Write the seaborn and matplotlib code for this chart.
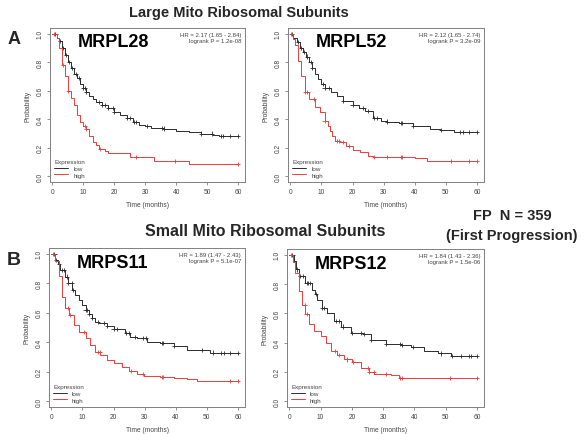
import numpy as np
import pandas as pd
import matplotlib
matplotlib.use("Agg")
import matplotlib.pyplot as plt
import seaborn as sns

sns.set_style("white")
plt.rcParams['font.family'] = ['Liberation Sans', 'DejaVu Sans']

colors = {'low': '#2b2b2b', 'high': '#f03a3a', 'frame': '#808080', 'text': '#444444'}

genes = ['MRPL28', 'MRPL52', 'MRPS11', 'MRPS12']
hr_text = ['HR = 2.17 (1.65 - 2.84)', 'HR = 2.12 (1.65 - 2.74)',
           'HR = 1.89 (1.47 - 2.43)', 'HR = 1.84 (1.43 - 2.36)']
p_text = ['logrank P = 1.2e-08', 'logrank P = 3.2e-09',
          'logrank P = 5.1e-07', 'logrank P = 1.5e-06']

# survival step knots (time in months, probability)
mrpl28_low_t = [0, 1.5, 2, 3, 4, 5, 6, 7, 8, 9, 10, 11, 12, 13, 14, 16, 18, 20, 22, 24, 26, 28, 30, 32, 36, 40, 44, 48, 52, 54, 60]
mrpl28_low_s = [1.0, 0.97, 0.95, 0.9, 0.85, 0.8, 0.76, 0.72, 0.69, 0.65, 0.62, 0.59, 0.56, 0.54, 0.52, 0.5, 0.48, 0.45, 0.43, 0.41, 0.38, 0.36, 0.35, 0.34, 0.335, 0.32, 0.31, 0.3, 0.29, 0.28, 0.28]
mrpl28_high_t = [0, 1.5, 2, 3, 4, 5, 6, 7, 8, 9, 10, 11, 12, 13, 14, 15, 17, 18, 25, 33, 44, 60]
mrpl28_high_s = [1.0, 0.97, 0.9, 0.78, 0.7, 0.6, 0.55, 0.5, 0.43, 0.38, 0.35, 0.33, 0.28, 0.24, 0.22, 0.19, 0.18, 0.16, 0.133, 0.105, 0.085, 0.085]

mrpl52_low_t = [0, 1, 2, 3, 4, 5, 6, 7, 8, 9, 10, 11, 13, 15, 17, 20, 22, 24, 26.5, 29, 31, 35, 39.5, 45, 48, 52.5, 60]
mrpl52_low_s = [1.0, 0.97, 0.94, 0.9, 0.87, 0.84, 0.8, 0.76, 0.72, 0.68, 0.65, 0.62, 0.59, 0.56, 0.53, 0.5, 0.48, 0.46, 0.41, 0.39, 0.384, 0.372, 0.356, 0.333, 0.326, 0.31, 0.31]
mrpl52_high_t = [0, 1, 1.5, 2.4, 3.4, 4.7, 6, 7.8, 9.4, 11, 12, 12.6, 13.5, 14.2, 16, 18, 20.2, 22.3, 25, 26.6, 40, 44, 60]
mrpl52_high_s = [1.0, 0.96, 0.92, 0.81, 0.7, 0.59, 0.543, 0.485, 0.45, 0.39, 0.35, 0.32, 0.28, 0.25, 0.24, 0.215, 0.185, 0.17, 0.145, 0.133, 0.126, 0.11, 0.11]

mrps11_low_t = [0, 1.3, 2, 2.9, 4.5, 5.5, 6.6, 7.7, 8.8, 10, 11, 12, 13, 14, 15.2, 17.9, 20, 23.8, 25.4, 27.5, 30.8, 35, 39.3, 43.6, 51, 53, 60]
mrps11_low_s = [1.0, 0.96, 0.93, 0.89, 0.846, 0.8, 0.755, 0.72, 0.687, 0.65, 0.62, 0.59, 0.562, 0.54, 0.528, 0.51, 0.488, 0.465, 0.438, 0.426, 0.404, 0.392, 0.374, 0.347, 0.33, 0.324, 0.324]
mrps11_high_t = [0, 1.3, 2.4, 3.4, 4.5, 5.6, 7.2, 8.8, 11, 12.5, 14.1, 15.8, 17.9, 20, 22.7, 24.9, 27.5, 29.7, 35, 39.3, 43.6, 46.8, 60]
mrps11_high_s = [1.0, 0.95, 0.85, 0.71, 0.63, 0.585, 0.517, 0.47, 0.426, 0.38, 0.336, 0.313, 0.279, 0.256, 0.234, 0.206, 0.184, 0.17, 0.166, 0.159, 0.147, 0.138, 0.138]

mrps12_low_t = [0, 1.4, 2.2, 3, 5.1, 7.3, 8.1, 8.9, 10.5, 12.1, 14.3, 16.4, 19.6, 23.4, 26, 30.9, 35.7, 38.9, 43.2, 47.5, 51.8, 60]
mrps12_low_s = [1.0, 0.957, 0.9, 0.854, 0.808, 0.763, 0.73, 0.694, 0.637, 0.603, 0.546, 0.51, 0.468, 0.457, 0.416, 0.388, 0.384, 0.37, 0.342, 0.326, 0.31, 0.31]
mrps12_high_t = [0, 1.2, 1.9, 3, 4.1, 5.1, 6.2, 7.8, 10, 11.6, 13.2, 15.3, 17.5, 20.1, 22.8, 25.5, 27.1, 32.5, 35.2, 60]
mrps12_high_s = [1.0, 0.95, 0.877, 0.75, 0.66, 0.594, 0.525, 0.48, 0.443, 0.397, 0.34, 0.315, 0.285, 0.27, 0.224, 0.2, 0.183, 0.178, 0.16, 0.16]

# censoring times (months)
mrpl28_low_c = [1, 2.5, 3.5, 4.5, 5.5, 6.5, 7.5, 8.5, 10, 10.5, 11, 15, 16, 17, 18, 19.5, 20, 24, 25, 26.5, 27, 30.5, 35.5, 36, 48, 51.5, 54.5, 55, 57.5, 60]
mrpl28_high_c = [0.5, 3.5, 5, 10.5, 11, 15.5, 27, 39.5, 60]
mrpl52_low_c = [0.5, 2.5, 3.5, 4.5, 5.5, 6.5, 7, 10.5, 11, 12.5, 17, 20, 23.5, 25, 27, 28, 31, 35.5, 36, 39.5, 48.5, 54.5, 55.5, 57.5, 60]
mrpl52_high_c = [0.3, 4.8, 5.5, 7.5, 11, 15, 15.5, 17, 19, 27, 31, 35.5, 36, 51.5, 57.5, 60]
mrps11_low_c = [1, 1.5, 2.5, 3.5, 4, 5, 5.5, 6.5, 7, 11, 11.5, 12, 13, 15, 17, 18, 20, 21, 24, 25, 27, 29.5, 30.5, 35.5, 36, 39.5, 48.5, 52, 54.5, 55.5, 57.5, 60]
mrps11_high_c = [0.5, 5.3, 6, 10.5, 15, 15.5, 25.5, 29.5, 35.5, 36, 57.5, 60]
mrps12_low_c = [1, 2.5, 3.5, 4.5, 5.5, 6, 6.5, 8.5, 10.5, 11, 15, 16, 17, 20, 23, 24, 26, 31, 35.5, 36, 39.5, 48.5, 52, 55, 57.5, 58, 60]
mrps12_high_c = [0.5, 5, 5.5, 14.5, 16, 18.5, 20.5, 25, 25.5, 27, 31, 35.5, 36, 51.5, 60]

curves = {
    'MRPL28': (mrpl28_low_t, mrpl28_low_s, mrpl28_low_c, mrpl28_high_t, mrpl28_high_s, mrpl28_high_c),
    'MRPL52': (mrpl52_low_t, mrpl52_low_s, mrpl52_low_c, mrpl52_high_t, mrpl52_high_s, mrpl52_high_c),
    'MRPS11': (mrps11_low_t, mrps11_low_s, mrps11_low_c, mrps11_high_t, mrps11_high_s, mrps11_high_c),
    'MRPS12': (mrps12_low_t, mrps12_low_s, mrps12_low_c, mrps12_high_t, mrps12_high_s, mrps12_high_c),
}


def step_value(times, surv, c):
    idx = np.searchsorted(times, c, side='right') - 1
    return surv[max(idx, 0)]


def km_panel(ax, gene, hr, p):
    lt, ls, lc, ht, hs, hc = curves[gene]
    lines = pd.concat([
        pd.DataFrame({'time': lt, 'surv': ls, 'Expression': 'low'}),
        pd.DataFrame({'time': ht, 'surv': hs, 'Expression': 'high'}),
    ])
    cens = pd.concat([
        pd.DataFrame({'time': lc, 'surv': [step_value(lt, ls, c) for c in lc], 'Expression': 'low'}),
        pd.DataFrame({'time': hc, 'surv': [step_value(ht, hs, c) for c in hc], 'Expression': 'high'}),
    ])
    pal = {'low': colors['low'], 'high': colors['high']}
    sns.lineplot(data=lines, x='time', y='surv', hue='Expression', palette=pal,
                 estimator=None, sort=True, drawstyle='steps-post', lw=0.7, ax=ax)
    sns.scatterplot(data=cens, x='time', y='surv', hue='Expression', palette=pal,
                    marker='+', s=9, linewidth=0.6, legend=False, ax=ax)

    ax.set_xlim(-0.75, 62.25)
    ax.set_ylim(-0.04, 1.04)
    ax.set_xticks([0, 10, 20, 30, 40, 50, 60])
    ax.set_yticks([0.0, 0.2, 0.4, 0.6, 0.8, 1.0])
    ax.set_yticklabels(['0.0', '0.2', '0.4', '0.6', '0.8', '1.0'], rotation=90, va='center')
    ax.tick_params(axis='both', labelsize=4.8, colors=colors['frame'], labelcolor=colors['text'],
                   length=2.5, width=0.6, direction='out', left=True, bottom=True, pad=2)
    for sp in ax.spines.values():
        sp.set_color(colors['frame'])
        sp.set_linewidth(0.7)
    ax.set_xlabel('Time (months)', fontsize=4.8, color=colors['text'], labelpad=4)
    ax.set_ylabel('Probability', fontsize=4.8, color=colors['text'], labelpad=4)

    ax.text(0.98, 0.975, hr + '\n' + p, transform=ax.transAxes, ha='right', va='top',
            fontsize=4.3, color=colors['text'], linespacing=1.2)
    ax.text(0.14, 0.91, gene, transform=ax.transAxes, ha='left', va='center',
            fontsize=13, fontweight='bold', color='black')
    leg = ax.legend(title='Expression', loc='lower left', frameon=False, fontsize=4.5,
                    title_fontsize=4.5, handlelength=2.2, borderaxespad=0.3,
                    labelspacing=0.2, alignment='left')
    for txt in leg.get_texts():
        txt.set_color(colors['text'])
    leg.get_title().set_color(colors['text'])


fig = plt.figure(figsize=(5.84, 4.35), dpi=100)
fig.patch.set_facecolor('white')

W, H = 584, 435
boxes = [(50, 29, 245, 183), (288, 29, 484, 183), (49, 249, 245, 408), (287, 250, 484, 408)]
for (x0, y0, x1, y1), gene, hr, p in zip(boxes, genes, hr_text, p_text):
    ax = fig.add_axes([x0 / W, 1 - y1 / H, (x1 - x0) / W, (y1 - y0) / H])
    km_panel(ax, gene, hr, p)

fig.text(239 / W, 1 - 13 / H, 'Large Mito Ribosomal Subunits', ha='center', va='center',
         fontsize=10.5, fontweight='bold')
fig.text(265 / W, 1 - 232 / H, 'Small Mito Ribosomal Subunits', ha='center', va='center',
         fontsize=11.5, fontweight='bold')
fig.text(8 / W, 1 - 39 / H, 'A', ha='left', va='center', fontsize=13, fontweight='bold')
fig.text(7 / W, 1 - 261 / H, 'B', ha='left', va='center', fontsize=14, fontweight='bold')
fig.text(512 / W, 1 - 216 / H, 'FP  N = 359', ha='center', va='center',
         fontsize=10.5, fontweight='bold')
fig.text(512 / W, 1 - 236 / H, '(First Progression)', ha='center', va='center',
         fontsize=10.5, fontweight='bold')

plt.savefig('out.png', dpi=100)
plt.close()
